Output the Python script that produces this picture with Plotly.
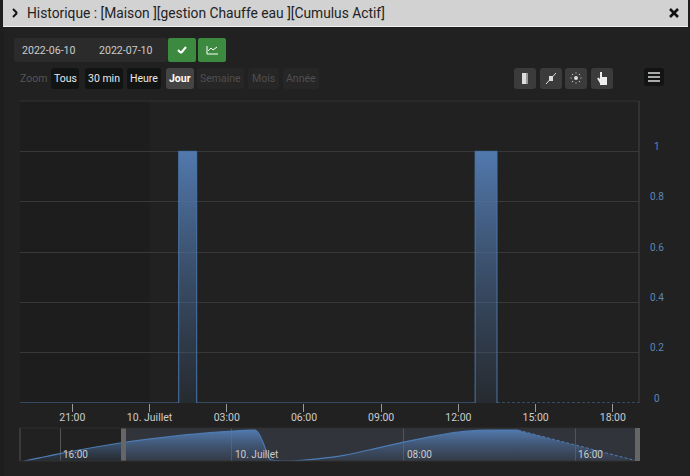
import plotly.graph_objects as go

# ---- data ----
title = "Historique : [Maison ][gestion Chauffe eau ][Cumulus Actif]"
main_times = ["2022-07-09 18:58", "2022-07-10 01:08", "2022-07-10 01:50", "2022-07-10 12:39", "2022-07-10 13:30"]
main_values = [0, 1, 0, 1, 0]
tail_times = ["2022-07-10 13:30", "2022-07-10 19:01"]
tail_values = [0, 0]
x_tickvals = ["2022-07-09 21:00", "2022-07-10 00:00", "2022-07-10 03:00", "2022-07-10 06:00",
              "2022-07-10 09:00", "2022-07-10 12:00", "2022-07-10 15:00", "2022-07-10 18:00"]
x_ticktext = ["21:00", "10. Juillet", "03:00", "06:00", "09:00", "12:00", "15:00", "18:00"]
y_tickvals = [0, 0.2, 0.4, 0.6, 0.8, 1]
y_ticktext = ["0", "0.2", "0.4", "0.6", "0.8", "1"]
nav_times = ["2022-07-09 14:20", "2022-07-09 16:00", "2022-07-09 18:56", "2022-07-09 21:36", "2022-07-09 23:00", "2022-07-10 00:04",
             "2022-07-10 00:50", "2022-07-10 01:05", "2022-07-10 01:15", "2022-07-10 01:28", "2022-07-10 01:40",
             "2022-07-10 01:47", "2022-07-10 02:00", "2022-07-10 02:43", "2022-07-10 04:00", "2022-07-10 05:17", "2022-07-10 06:40", "2022-07-10 08:00",
             "2022-07-10 09:20", "2022-07-10 10:33", "2022-07-10 11:48", "2022-07-10 13:20"]
nav_values = [0, 0.24, 0.6, 0.83, 0.92, 0.97, 1.0, 1.0, 0.9, 0.58, 0.2, 0.05, 0.01, 0, 0.07, 0.19, 0.4, 0.61, 0.8, 0.94, 1, 1]
nav_tail_times = ["2022-07-10 13:20", "2022-07-10 16:00", "2022-07-10 18:53"]
nav_tail_values = [1, 0.52, 0]
nav_ticks = ["2022-07-09 16:00", "2022-07-10 00:00", "2022-07-10 08:00", "2022-07-10 16:00"]
nav_labels = ["16:00", "10. Juillet", "08:00", "16:00"]
buttons = ["Tous", "30 min", "Heure", "Jour", "Semaine", "Mois", "Année"]
dates = ["2022-06-10", "2022-07-10"]

W, H = 690, 476
px = lambda v: v / W
py = lambda v: 1 - v / H
FONT = "Roboto, sans-serif"

def rrect(x0, y0, x1, y1, fill, r=3):
    X0, X1, Y0, Y1 = px(x0), px(x1), py(y0), py(y1)
    rx, ry = r / W, r / H
    path = (f"M{X0+rx},{Y0} L{X1-rx},{Y0} Q{X1},{Y0} {X1},{Y0-ry} L{X1},{Y1+ry} Q{X1},{Y1} {X1-rx},{Y1} "
            f"L{X0+rx},{Y1} Q{X0},{Y1} {X0},{Y1+ry} L{X0},{Y0-ry} Q{X0},{Y0} {X0+rx},{Y0} Z")
    return dict(type="path", path=path, xref="paper", yref="paper", fillcolor=fill, line_width=0, layer="below")

def rect(x0, y0, x1, y1, fill, layer="below"):
    return dict(type="rect", xref="paper", yref="paper", x0=px(x0), x1=px(x1), y0=py(y0), y1=py(y1),
                fillcolor=fill, line_width=0, layer=layer)

def seg(x0, y0, x1, y1, color, w=1):
    return dict(type="line", xref="paper", yref="paper", x0=px(x0), x1=px(x1), y0=py(y0), y1=py(y1),
                line=dict(color=color, width=w), layer="above")

def label(x, y, text, color="#ddd", size=12, anchor="center", weight=400):
    return dict(x=px(x), y=py(y), xref="paper", yref="paper", text=text, showarrow=False, xanchor=anchor,
                yanchor="middle", font=dict(family=FONT, size=size, color=color, weight=weight))

shapes, ann = [], []
# modal chrome
shapes += [rect(0, 0, 690, 476, "#1e1e1e"), rect(3, 0, 688, 26, "#d2d2d2"), rect(3, 26, 688, 27, "#f2f2f2"),
           rect(4, 28, 690, 476, "#212121")]
ann.append(label(25, 13, title, "#222", 13.8, "left"))
shapes += [seg(13, 9, 17, 13, "#111", 2), seg(17, 13, 13, 17, "#111", 2),
           seg(670, 9, 678, 17, "#111", 2.5), seg(678, 9, 670, 17, "#111", 2.5)]
# date controls
shapes += [rrect(14, 38, 168, 62, "#2b2b2b"), rrect(168, 38, 196, 62, "#3c8a40", 2), rrect(198, 38, 226, 62, "#3c8a40", 2)]
ann += [label(49, 51, dates[0], "#ccc", 10.6), label(126, 51, dates[1], "#ccc", 10.6)]
shapes += [seg(178, 50, 181, 53, "#fff", 2), seg(181, 53, 186, 47, "#fff", 2)]
shapes += [seg(207, 46, 207, 54, "#fff"), seg(207, 54, 218, 54, "#fff"),
           seg(208, 51, 211, 48, "#fff"), seg(211, 48, 213, 50, "#fff"), seg(213, 50, 217, 47, "#fff")]
# zoom buttons
ann.append(label(33, 79, "Zoom", "#555", 10.5))
spans = [(51, 79, "#121414", "#e8e8e8"), (85, 123, "#121414", "#e8e8e8"), (127, 161, "#121414", "#e8e8e8"),
         (166, 194, "#444", "#fff"), (197, 244, "#262626", "#4f4f4f"), (248, 279, "#262626", "#4f4f4f"),
         (283, 319, "#262626", "#4f4f4f")]
for name, (a, b, f, c) in zip(buttons, spans):
    shapes.append(rrect(a, 68, b, 89, f))
    ann.append(label((a + b) / 2, 79, name, c, 10.5, "center", 700 if name == "Jour" else 400))
# tool icons
for a, b in [(514, 536), (540, 562), (565, 587), (591, 613)]:
    shapes.append(rrect(a, 68, b, 89, "#3b3b3b"))
shapes += [rect(522, 73, 526, 84, "#ddd", "above"), rect(526, 73, 528, 84, "#999", "above")]
shapes += [seg(546, 84, 556, 73, "#ddd"), rect(549, 76, 553, 81, "#ddd", "above")]
shapes.append(dict(type="circle", xref="paper", yref="paper", x0=px(574), x1=px(578), y0=py(80), y1=py(76),
                   fillcolor="#ddd", line_width=0))
for (a, b) in [(576, 73), (576, 83), (571, 78), (581, 78), (572.5, 74.5), (579.5, 74.5), (572.5, 81.5), (579.5, 81.5)]:
    shapes.append(rect(a - 0.6, b - 0.6, a + 0.6, b + 0.6, "#bbb", "above"))
shapes += [rect(600, 72, 602, 79, "#eee", "above"), rect(600, 77, 607, 85, "#eee", "above"), seg(598, 78, 601, 83, "#eee", 2)]
shapes.append(rrect(644, 68, 664, 86, "#121414"))
shapes += [seg(648, 73, 660, 73, "#aaa", 2), seg(648, 77, 660, 77, "#aaa", 2), seg(648, 81, 660, 81, "#aaa", 2)]

# main plot band, borders
shapes.append(dict(type="rect", xref="x", yref="paper", x0="2022-07-09 18:58", x1="2022-07-10 00:00",
                   y0=py(403), y1=py(101), fillcolor="#1d1d1d", line_width=0, layer="below"))
shapes += [seg(20, 101, 639, 101, "#333"), seg(639, 101, 639, 403, "#444")]
# navigator window and handles
shapes.append(dict(type="rect", xref="x2", yref="paper", x0="2022-07-09 18:56", x1="2022-07-10 18:53",
                   y0=py(461), y1=py(428), fillcolor="rgba(130,150,190,0.17)", line_width=0, layer="below"))
shapes += [rect(121, 428, 126, 461, "#666", "above"), rect(635, 428, 640, 461, "#666", "above")]
shapes += [seg(20, 428, 20, 461, "#555"), seg(20, 428, 635, 428, "#2e2e2e"), seg(20, 461, 635, 461, "#333")]

for t, txt in zip(nav_ticks, nav_labels):
    ann.append(dict(x=t, y=py(454), xref="x2", yref="paper", text=txt, showarrow=False, xanchor="left", xshift=1,
                    yanchor="middle", font=dict(family=FONT, size=10, color="#ccc")))
# value labels sit just above their gridlines
for v, txt in zip(y_tickvals, y_ticktext):
    ann.append(dict(x=px(657), y=v, xref="paper", yref="y", text=txt, showarrow=False, xanchor="center",
                    yanchor="middle", yshift=5, font=dict(family=FONT, size=10, color="#5c86b8")))

grad = dict(type="vertical", colorscale=[[0, "rgba(70,100,140,0.15)"], [1, "rgba(84,125,180,0.95)"]])
fig = go.Figure()
fig.add_trace(go.Scatter(x=main_times, y=main_values, mode="lines", line=dict(color="#4a76aa", width=1, shape="hv"),
                         fill="tozeroy", fillgradient=grad, hoverinfo="skip", showlegend=False))
fig.add_trace(go.Scatter(x=tail_times, y=tail_values, mode="lines", line=dict(color="#4a76aa", width=1, dash="3px,2px"),
                         hoverinfo="skip", showlegend=False))
fig.add_trace(go.Scatter(x=nav_times, y=nav_values, xaxis="x2", yaxis="y2", mode="lines",
                         line=dict(color="#4d7cb4", width=1.2, shape="spline", smoothing=0.6), fill="tozeroy", fillgradient=grad,
                         hoverinfo="skip", showlegend=False))
fig.add_trace(go.Scatter(x=nav_tail_times, y=nav_tail_values, xaxis="x2", yaxis="y2", mode="lines",
                         line=dict(color="#4d7cb4", width=1, dash="3px,2px"), fill="tozeroy", fillgradient=grad,
                         hoverinfo="skip", showlegend=False))

fig.update_layout(
    width=W, height=H, autosize=False, margin=dict(l=0, r=0, t=0, b=0),
    paper_bgcolor="#212121", plot_bgcolor="rgba(0,0,0,0)", shapes=shapes, annotations=ann,
    font=dict(family=FONT, color="#ccc", size=11),
    xaxis=dict(domain=[px(20), px(639)], range=["2022-07-09 18:58", "2022-07-10 19:01"], type="date", automargin=False,
               tickmode="array", tickvals=x_tickvals, ticktext=x_ticktext, ticks="outside", ticklen=8, tickcolor="#999",
               ticklabelstandoff=-4, tickfont=dict(size=10.5, color="#ccc"), showgrid=False, zeroline=False, showline=False, anchor="y"),
    yaxis=dict(domain=[py(403), py(101)], range=[0, 1.2], side="right", anchor="x", tickmode="array", automargin=False,
               tickvals=y_tickvals, showticklabels=False,
               gridcolor="#383838", gridwidth=1, zeroline=False, showline=False, ticks=""),
    xaxis2=dict(domain=[px(20), px(639)], range=["2022-07-09 14:08", "2022-07-10 18:58"], type="date", anchor="y2", automargin=False,
                tickmode="array", tickvals=nav_ticks, showticklabels=False, showgrid=True, gridcolor="#555", gridwidth=1,
                ticks="", zeroline=False, showline=False),
    yaxis2=dict(domain=[py(461), py(428)], range=[0, 1.07], anchor="x2", visible=False, showgrid=False, automargin=False),
)
fig.write_html("out.html", config=dict(displayModeBar=False),
               post_script="document.body.style.margin='0';document.body.style.overflow='hidden';")
